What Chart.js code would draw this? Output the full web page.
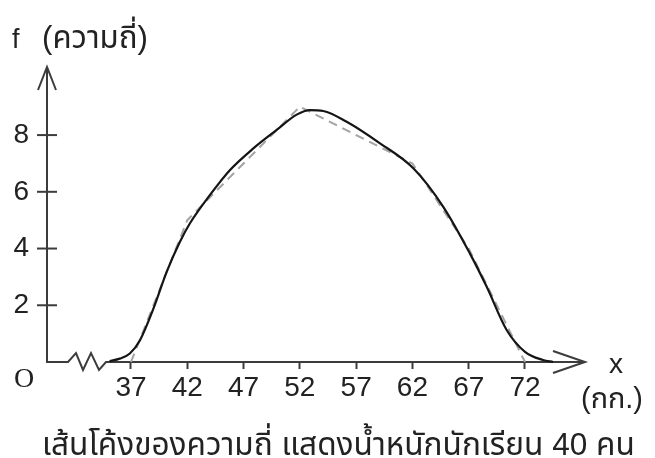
<!DOCTYPE html>
<html><head><meta charset="utf-8">
<style>html,body{margin:0;padding:0;background:#fff;}canvas{display:block;}</style>
<script src="https://cdn.jsdelivr.net/npm/chart.js@4.4.1/dist/chart.umd.min.js"></script>
</head><body>
<canvas id="c" width="655" height="458"></canvas>
<script>
// ---- data ----
const midpoints = [37, 42, 47, 52, 57, 62, 67, 72];
const frequencies = [0, 5, 7, 9, 8, 7, 4, 0];
const curveX = [35.1, 36.0, 36.9, 37.8, 39.0, 40.17, 41.35, 42.24, 44.02, 45.8, 47.87, 49.94, 51.72, 52.9, 54.08, 56.16, 59.12, 62.08, 64.74, 67.1, 68.6, 70.37, 72.0, 73.6, 74.5];
const curveY = [0.03, 0.12, 0.3, 0.77, 1.89, 3.18, 4.24, 4.89, 5.89, 6.77, 7.53, 8.18, 8.72, 8.88, 8.85, 8.47, 7.71, 6.83, 5.47, 3.83, 2.65, 1.13, 0.36, 0.07, 0];
const xTickLabels = [37, 42, 47, 52, 57, 62, 67, 72];
const yTickLabels = [2, 4, 6, 8];
const yAxisTitle = ['f', '(ความถี่)'];
const xAxisTitle = ['x', '(กก.)'];
const originLabel = 'O';
const caption = 'เส้นโค้งของความถี่ แสดงน้ำหนักนักเรียน 40 คน';
const xMin = 29.54, xMax = 77.33, yMin = 0, yMax = 10.4;

const SANS = '"Liberation Sans", Arial, sans-serif';
const THAI = '"Liberation Sans", "Noto Sans Thai", Tahoma, "Noto Sans", sans-serif';
const TXT = '#222';
const AX = '#3c3c3c';

function fitText(ctx, text, family, targetW, baseSize) {
  ctx.font = baseSize + 'px ' + family;
  const w = ctx.measureText(text).width;
  ctx.font = (baseSize * targetW / w).toFixed(2) + 'px ' + family;
}

const axesPlugin = {
  id: 'axesDeco',
  beforeDatasetsDraw(chart) {
    const { ctx, scales: { x, y } } = chart;
    const x0 = x.getPixelForValue(xMin), y0 = y.getPixelForValue(0);
    const xEnd = x.getPixelForValue(xMax), yTop = y.getPixelForValue(yMax);
    ctx.save();
    ctx.strokeStyle = AX; ctx.lineWidth = 2; ctx.lineJoin = 'miter'; ctx.lineCap = 'butt';
    ctx.beginPath(); ctx.moveTo(x0, y0 + 1); ctx.lineTo(x0, yTop + 1); ctx.stroke();
    ctx.beginPath(); ctx.moveTo(x0 - 9, yTop + 23); ctx.lineTo(x0, yTop); ctx.lineTo(x0 + 9, yTop + 23); ctx.stroke();
    yTickLabels.forEach(v => {
      const py = y.getPixelForValue(v);
      ctx.beginPath(); ctx.moveTo(x0 - 10, py); ctx.lineTo(x0 + 10, py); ctx.stroke();
    });
    ctx.beginPath();
    ctx.moveTo(x0, y0);
    ctx.lineTo(x0 + 21, y0);
    ctx.lineTo(x0 + 29, y0 - 9);
    ctx.lineTo(x0 + 36, y0 + 8);
    ctx.lineTo(x0 + 44, y0 - 9);
    ctx.lineTo(x0 + 52, y0 + 8);
    ctx.lineTo(x0 + 59, y0);
    ctx.lineTo(xEnd - 1, y0);
    ctx.stroke();
    ctx.beginPath(); ctx.moveTo(xEnd - 32, y0 - 11); ctx.lineTo(xEnd, y0); ctx.lineTo(xEnd - 32, y0 + 11); ctx.stroke();
    ctx.restore();
  },
  afterDraw(chart) {
    const { ctx } = chart;
    ctx.save();
    ctx.fillStyle = TXT;
    ctx.textBaseline = 'alphabetic';
    ctx.textAlign = 'left';
    ctx.font = '27px ' + SANS;
    ctx.fillText(yAxisTitle[0], 12, 48);
    fitText(ctx, yAxisTitle[1], THAI, 106, 26);
    ctx.fillText(yAxisTitle[1], 42, 48);
    ctx.font = '28px "Liberation Serif", "Times New Roman", serif';
    ctx.fillText(originLabel, 14, 387);
    ctx.font = '28px ' + SANS;
    ctx.fillText(xAxisTitle[0], 609, 373);
    fitText(ctx, xAxisTitle[1], THAI, 62, 26);
    ctx.fillText(xAxisTitle[1], 581, 408);
    fitText(ctx, caption, THAI, 593, 30);
    ctx.fillText(caption, 42, 455);
    ctx.restore();
  }
};

new Chart(document.getElementById('c'), {
  type: 'line',
  data: {
    datasets: [
      {
        label: 'โค้งความถี่',
        data: curveX.map((v, i) => ({ x: v, y: curveY[i] })),
        borderColor: '#151515',
        borderWidth: 2.2,
        pointRadius: 0,
        cubicInterpolationMode: 'monotone',
        fill: false,
        clip: false
      },
      {
        label: 'รูปหลายเหลี่ยมความถี่',
        data: midpoints.map((v, i) => ({ x: v, y: frequencies[i] })),
        borderColor: '#a3a3a3',
        borderWidth: 2,
        borderDash: [9, 6],
        pointRadius: 0,
        tension: 0,
        fill: false,
        clip: false
      }
    ]
  },
  options: {
    responsive: false,
    animation: false,
    events: [],
    layout: { padding: { top: 67, right: 70, left: 0, bottom: 0 } },
    plugins: { legend: { display: false }, tooltip: { enabled: false }, title: { display: false } },
    scales: {
      x: {
        type: 'linear',
        min: xMin, max: xMax,
        afterBuildTicks: s => { s.ticks = xTickLabels.map(v => ({ value: v })); },
        afterFit: s => { s.height = 96; },
        border: { display: false },
        grid: { display: true, drawOnChartArea: false, drawTicks: true, tickLength: 7, tickWidth: 2, tickColor: AX, color: AX },
        ticks: { padding: 2, color: TXT, font: { family: SANS, size: 28 }, maxRotation: 0, autoSkip: false, callback: v => String(v) }
      },
      y: {
        type: 'linear',
        min: yMin, max: yMax,
        afterBuildTicks: s => { s.ticks = yTickLabels.map(v => ({ value: v })); },
        afterFit: s => { s.width = 47; },
        border: { display: false },
        grid: { display: false, drawTicks: false, tickLength: 0 },
        ticks: { padding: 18, color: TXT, font: { family: SANS, size: 28 }, autoSkip: false, callback: v => String(v) }
      }
    }
  },
  plugins: [axesPlugin]
});
</script>
</body></html>
